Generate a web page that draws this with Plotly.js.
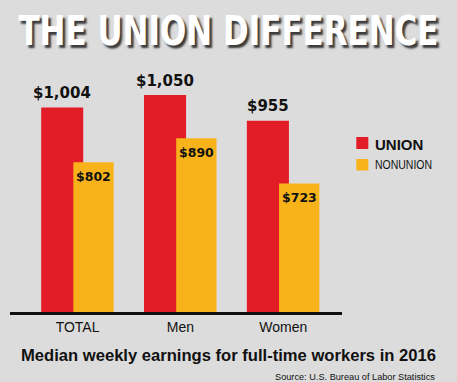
<!DOCTYPE html>
<html>
<head>
<meta charset="utf-8">
<script src="https://cdn.plot.ly/plotly-3.0.1.min.js"></script>
<style>
html,body{margin:0;padding:0;background:#dcdcdc;}
#chart{width:457px;height:382px;}
</style>
</head>
<body>
<div id="chart"></div>
<script>
// ---- data ----
const categories = ['TOTAL', 'Men', 'Women'];
const unionValues = [1004, 1050, 955];
const nonunionValues = [802, 890, 723];
const seriesNames = ['UNION', 'NONUNION'];
const chartTitle = 'THE UNION DIFFERENCE';
const subtitle = 'Median weekly earnings for full-time workers in 2016';
const sourceText = 'Source: U.S. Bureau of Labor Statistics';

// ---- layout geometry ----
const W = 457, H = 382;
const M = {l: 10, r: 115.3, t: 60, b: 70};
const plotW = W - M.l - M.r, plotH = H - M.t - M.b;
const px = x => (x - M.l) / plotW;          // pixel -> paper x
const py = y => (H - M.b - y) / plotH;      // pixel -> paper y

const RED = '#e21d27', YELLOW = '#f8b31b', INK = '#111111';
const uOff = -0.354, uW = 0.409, nOff = -0.041, nW = 0.392;
const idx = categories.map((c, i) => i);
const fmt = v => '$' + v.toLocaleString('en-US');

const traces = [
  {type: 'bar', name: seriesNames[0], x: idx, y: unionValues,
   width: uW, offset: uOff, marker: {color: RED}, hoverinfo: 'skip'},
  {type: 'bar', name: seriesNames[1], x: idx, y: nonunionValues,
   width: nW, offset: nOff, marker: {color: YELLOW}, hoverinfo: 'skip'}
];

const annotations = [];
idx.forEach(i => {
  annotations.push({x: i + uOff + uW / 2, y: unionValues[i], xref: 'x', yref: 'y',
    text: fmt(unionValues[i]), showarrow: false, yanchor: 'middle', yshift: 14.5,
    font: {family: 'DejaVu Sans', size: 15, weight: 700, color: INK}});
  annotations.push({x: i + nOff + nW / 2, y: nonunionValues[i], xref: 'x', yref: 'y',
    text: fmt(nonunionValues[i]), showarrow: false, yanchor: 'middle', yshift: -14,
    font: {family: 'DejaVu Sans', size: 12.5, weight: 700, color: INK}});
});
// legend text
annotations.push({x: px(373), y: py(144), xref: 'paper', yref: 'paper', xanchor: 'left', yanchor: 'middle',
  text: '<b>' + seriesNames[0] + '</b>', showarrow: false,
  font: {family: 'Liberation Sans', size: 15, color: INK}});
annotations.push({x: px(373), y: py(164), xref: 'paper', yref: 'paper', xanchor: 'left', yanchor: 'middle',
  text: seriesNames[1], showarrow: false,
  font: {family: 'Liberation Sans', size: 13, color: INK}});
// subtitle & source
annotations.push({x: px(228), y: py(355.5), xref: 'paper', yref: 'paper', xanchor: 'center', yanchor: 'middle',
  text: '<b>' + subtitle + '</b>', showarrow: false,
  font: {family: 'Liberation Sans', size: 16.6, color: INK}});
annotations.push({x: px(437), y: py(376.5), xref: 'paper', yref: 'paper', xanchor: 'right', yanchor: 'middle',
  text: sourceText, showarrow: false,
  font: {family: 'Liberation Sans', size: 9.2, color: INK}});

const shapes = [
  {type: 'rect', xref: 'paper', yref: 'paper', x0: px(356), x1: px(368), y0: py(137), y1: py(149),
   fillcolor: RED, line: {width: 0}},
  {type: 'rect', xref: 'paper', yref: 'paper', x0: px(356), x1: px(368), y0: py(159), y1: py(170.5),
   fillcolor: YELLOW, line: {width: 0}}
];

const TITLE_SIZE = 31;
const layout = {
  width: W, height: H,
  margin: M,
  paper_bgcolor: '#dcdcdc', plot_bgcolor: '#dcdcdc',
  showlegend: false,
  barmode: 'overlay',
  title: {text: '<b>' + chartTitle + '</b>', x: 0.5, xref: 'container', xanchor: 'center',
    y: 1 - 17 / H, yref: 'container', yanchor: 'top',
    font: {family: 'DejaVu Sans', size: TITLE_SIZE, color: '#ffffff',
      shadow: '3px 2px 2px rgba(30,30,30,0.85)'}},
  xaxis: {range: [-0.657, 2.571], tickmode: 'array', tickvals: idx, ticktext: categories,
    showline: true, linecolor: INK, linewidth: 3.4, ticks: '', showgrid: false, zeroline: false,
    tickfont: {family: 'Liberation Sans', size: 14, color: INK}, fixedrange: true},
  yaxis: {range: [248.8, 248.8 + plotH / 0.2708], visible: false, fixedrange: true},
  annotations: annotations,
  shapes: shapes
};

function squeeze(el, width) {
  el.setAttribute('textLength', width);
  el.setAttribute('lengthAdjust', 'spacingAndGlyphs');
}

Plotly.newPlot('chart', traces, layout, {displayModeBar: false, staticPlot: true}).then(gd => {
  const t = gd.querySelector('.gtitle');
  if (t) {
    squeeze(t, 420);
    const b = t.getBBox();
    const baseline = b.y + b.height * 0.928 / 1.164;
    const s = 30 / (0.729 * TITLE_SIZE);
    const prev = t.getAttribute('transform') || '';
    t.setAttribute('transform', prev + ' translate(0,45) scale(1,' + s + ') translate(0,' + (-baseline) + ')');
  }
  gd.querySelectorAll('.annotation-text').forEach(el => {
    if (el.textContent === seriesNames[1]) {
      const b = el.getBBox();
      el.setAttribute('text-anchor', 'start');
      el.setAttribute('x', b.x);
      squeeze(el, 57);
    }
  });
});
</script>
</body>
</html>
